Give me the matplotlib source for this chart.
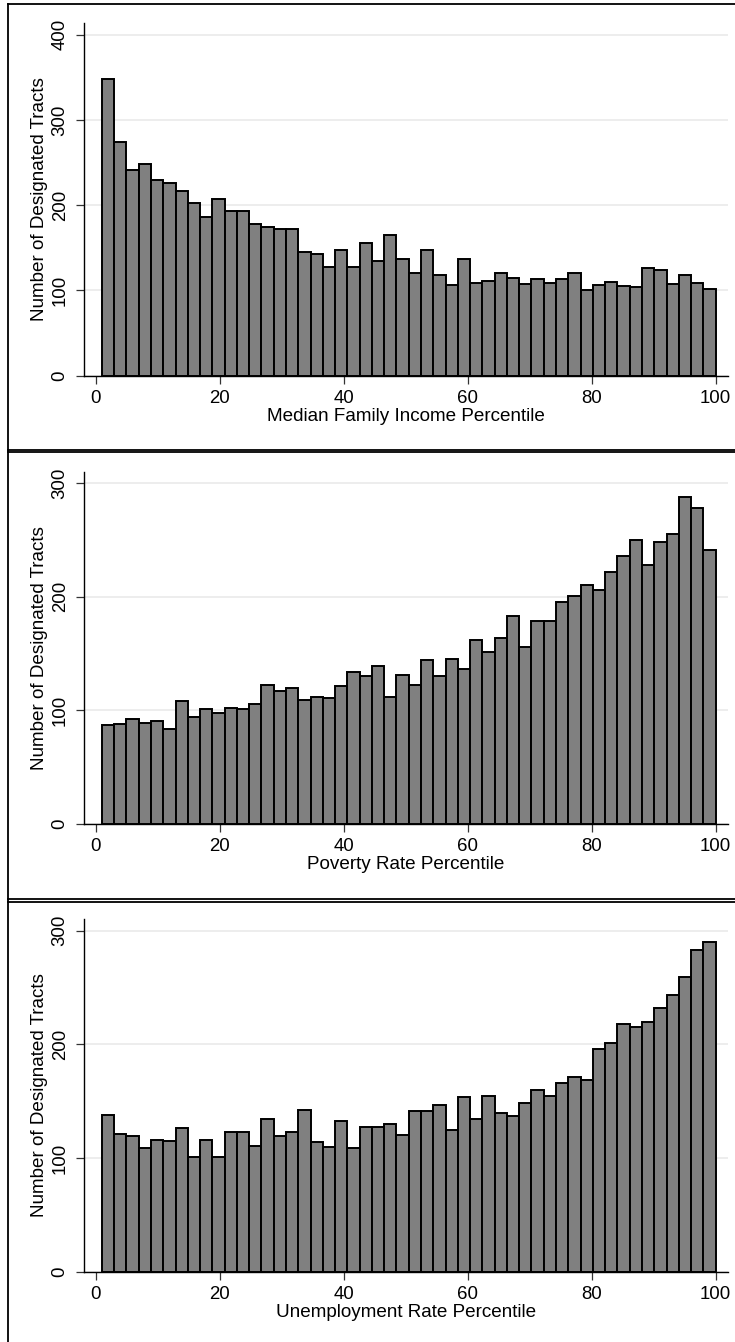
import numpy as np
import matplotlib
matplotlib.use("Agg")
import matplotlib.pyplot as plt
from matplotlib.lines import Line2D

plt.rcParams['font.family'] = ['Liberation Sans', 'DejaVu Sans']

# bar heights (50 bins, 1..100)
income_counts = [348, 274, 241, 248, 230, 226, 217, 202, 186, 207,
                 193, 193, 178, 174, 172, 172, 145, 143, 128, 148,
                 127, 156, 134, 165, 137, 121, 147, 118, 106, 137,
                 109, 111, 121, 115, 107, 113, 109, 114, 120, 100,
                 106, 110, 105, 104, 126, 124, 107, 118, 109, 102]
poverty_counts = [87, 88, 92, 89, 91, 84, 108, 94, 101, 98,
                  102, 101, 106, 122, 117, 120, 109, 112, 111, 121,
                  134, 130, 139, 112, 131, 122, 144, 130, 145, 136,
                  162, 151, 164, 183, 156, 179, 179, 195, 201, 210,
                  206, 222, 236, 250, 228, 248, 255, 288, 278, 241]
unemp_counts = [138, 121, 119, 109, 116, 115, 126, 101, 116, 101,
                123, 123, 111, 134, 119, 123, 142, 114, 110, 133,
                109, 127, 127, 130, 120, 141, 141, 147, 125, 154,
                134, 155, 140, 137, 148, 160, 155, 166, 171, 169,
                196, 201, 218, 215, 220, 232, 243, 259, 283, 290]

xlabels = ["Median Family Income Percentile",
           "Poverty Rate Percentile",
           "Unemployment Rate Percentile"]
ytick_sets = [[0, 100, 200, 300, 400], [0, 100, 200, 300], [0, 100, 200, 300]]
ytops = [413.7, 310, 310]
series = [income_counts, poverty_counts, unemp_counts]

W, H = 735, 1342
fig = plt.figure(figsize=(W / 100, H / 100), dpi=100)

# axes boxes in pixels: (top, bottom)
ax_px = [(23, 375.7), (471.7, 824), (919.3, 1271.7)]
ax_left, ax_right = 84, 728

edges = np.linspace(1, 100, 51)
centers = (edges[:-1] + edges[1:]) / 2
width = edges[1] - edges[0]

for i in range(3):
    top, bot = ax_px[i]
    ax = fig.add_axes([ax_left / W, 1 - bot / H, (ax_right - ax_left) / W, (bot - top) / H])
    ax.bar(centers, series[i], width=width, color='#808080', edgecolor='black',
           linewidth=1.4, zorder=3)
    ax.set_xlim(-1.89, 102.0)
    ax.set_ylim(0, ytops[i])
    ax.set_xticks([0, 20, 40, 60, 80, 100])
    ax.set_yticks(ytick_sets[i])
    ax.grid(axis='y', color='#e8e8e8', linewidth=1.1, zorder=0)
    ax.set_axisbelow(True)
    for s in ['top', 'right']:
        ax.spines[s].set_visible(False)
    for s in ['left', 'bottom']:
        ax.spines[s].set_linewidth(1.0)
        ax.spines[s].set_color('black')
    ax.tick_params(axis='both', length=6, width=0.9, color='#333333',
                   labelsize=13.4, pad=4)
    ax.tick_params(axis='y', pad=5)
    plt.setp(ax.get_yticklabels(), rotation=90, va='center', ha='right')
    ax.set_ylabel("Number of Designated Tracts", fontsize=13.6)
    ax.yaxis.set_label_coords(-0.056, 0.5)
    ax.set_xlabel(xlabels[i], fontsize=13.6)
    ax.xaxis.set_label_coords(0.5, -0.092)
    ax.xaxis.label.set_va('top')

# panel frames (graph combine look)
def hline(y, x0=8.3, x1=760, lw=1.3):
    fig.add_artist(Line2D([x0 / W, x1 / W], [1 - y / H, 1 - y / H],
                          color='black', linewidth=lw))

def vline(x, y0, y1, lw=1.3):
    fig.add_artist(Line2D([x / W, x / W], [1 - y0 / H, 1 - y1 / H],
                          color='black', linewidth=lw))

hline(4.3)
hline(449.5)
hline(452.3)
hline(899.3)
hline(901.8)
vline(8.3, 4.3, 1360)

fig.savefig("out.png", dpi=100)
